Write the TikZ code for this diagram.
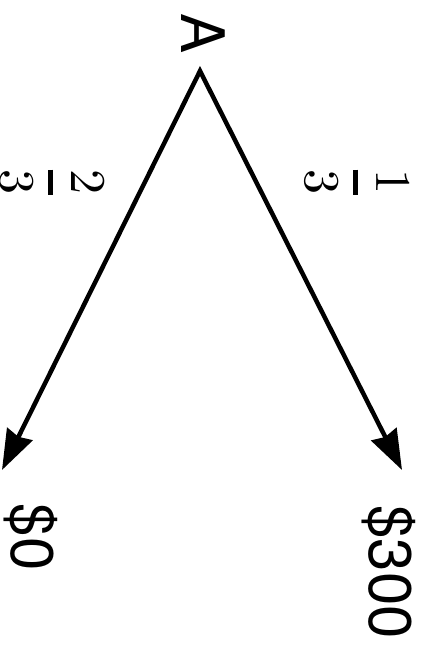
\documentclass[tikz,border=0pt]{standalone}
\usepackage{amsmath}
\usepackage{graphicx}
\usepackage{fontspec}
\newfontfamily\helv{TeX Gyre Heros}
\usetikzlibrary{arrows.meta}
\tikzset{
  lbl/.style={rotate=-90,inner sep=0pt,font=\helv\fontsize{60}{72}\selectfont},
  fracl/.style={rotate=-90,inner sep=0pt},
  arr/.style={line width=4.5pt,arrows={Stealth[length=40pt,width=28pt,inset=3pt]-Stealth[length=40pt,width=28pt,inset=3pt]}}
}
\begin{document}
\begin{tikzpicture}[x=1pt,y=-1pt]
\useasboundingbox (0,0) rectangle (430,650);
\node[lbl] (A) at (203,34) {A};
\node[lbl] (z) at (31,537) {\$0};
\node[lbl] (t) at (389,572) {\$300};
\node[fracl] (f2) at (52,182) {\scalebox{5}{$\genfrac{}{}{1pt}{0}{2}{3}$}};
\node[fracl] (f1) at (357,182) {\scalebox{5}{$\genfrac{}{}{1pt}{0}{1}{3}$}};
\coordinate (top) at (200,71);
\coordinate (tz) at (2,470);
\coordinate (tt) at (402,470);
\draw[arr] (tz) -- (top) -- (tt);
\end{tikzpicture}
\end{document}
